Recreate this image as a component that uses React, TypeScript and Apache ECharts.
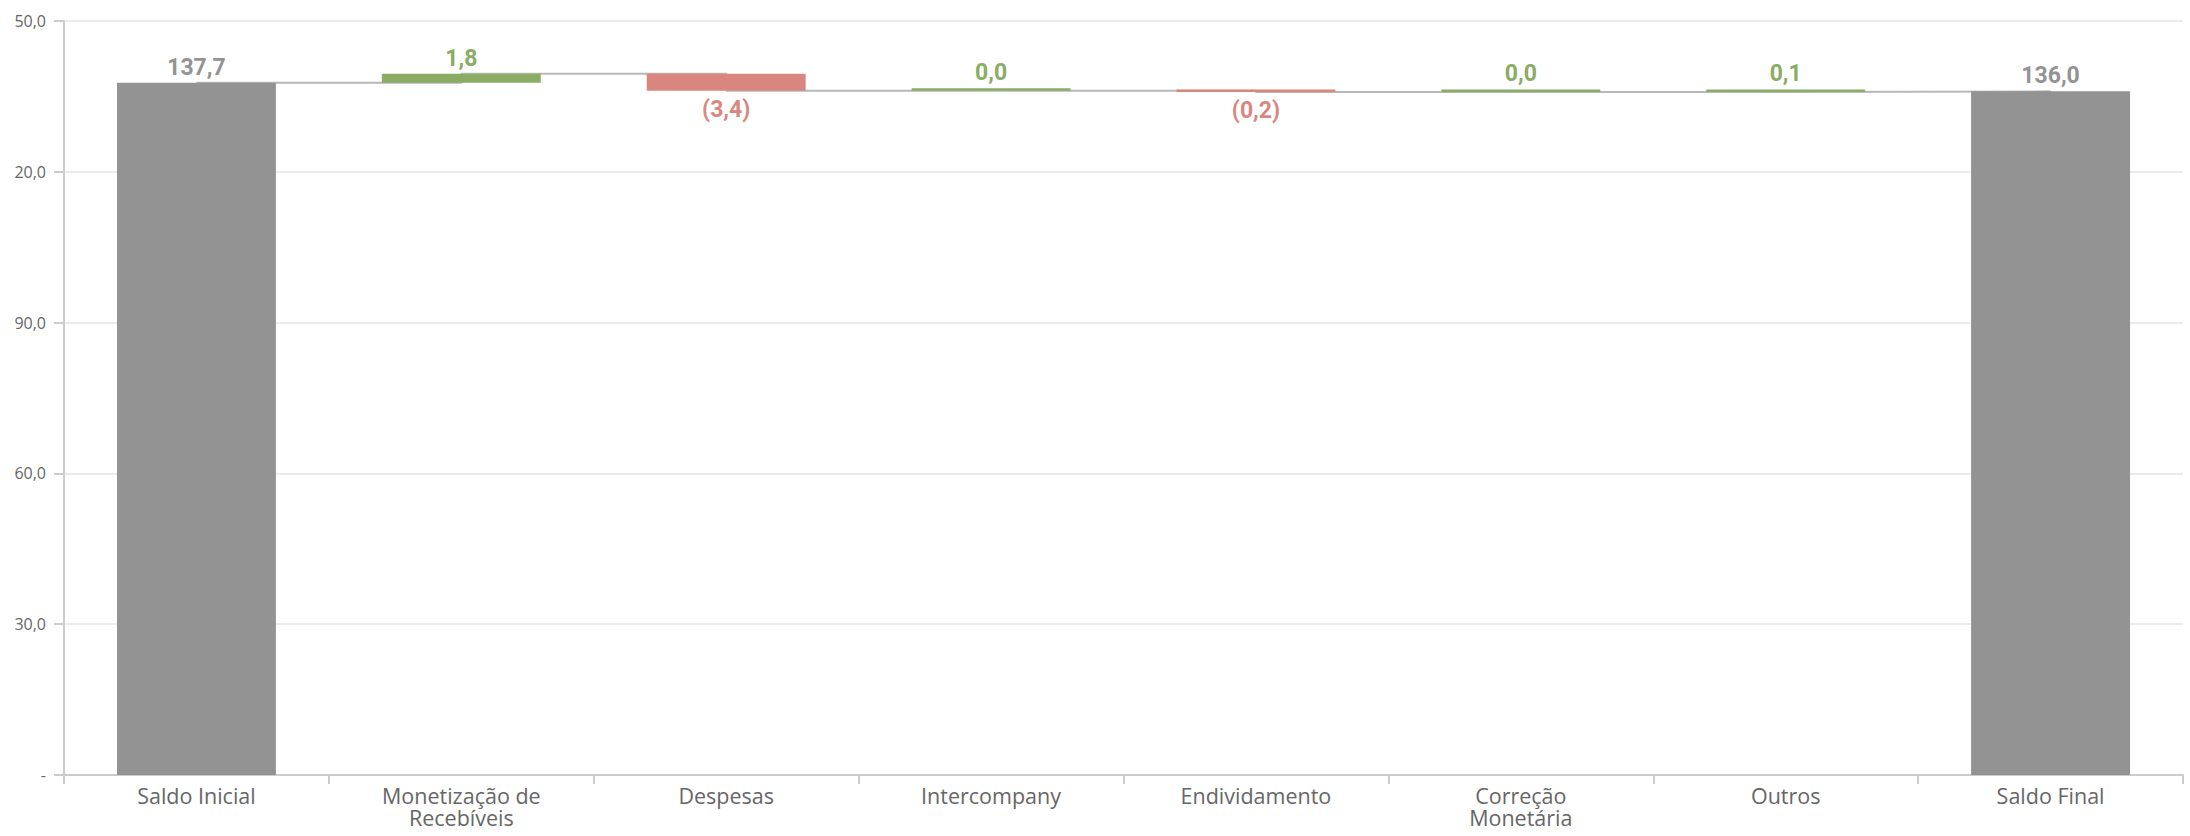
import React, { useEffect, useRef } from "react";
import * as echarts from "echarts";

const categories = [
  "Saldo Inicial",
  "Monetização de\nRecebíveis",
  "Despesas",
  "Intercompany",
  "Endividamento",
  "Correção\nMonetária",
  "Outros",
  "Saldo Final",
];
const saldoInicial = 137.7;
const variacoes = [1.8, -3.4, 0.0, -0.2, 0.0, 0.1];
const saldoFinal = 136.0;
const yMin = 0;
const yMax = 150;
const yInterval = 30;

const GRAY = "#939393";
const GREEN = "#8aac64";
const RED = "#d9867f";

const r1 = (v: number) => Math.round(v * 10) / 10;
const fmt = (v: number) => {
  const s = Math.abs(v).toFixed(1).replace(".", ",");
  return v < 0 ? `(${s})` : s;
};

export default function App() {
  const ref = useRef<HTMLDivElement>(null);
  useEffect(() => {
    if (!ref.current) return;
    const chart = echarts.init(ref.current, undefined, { renderer: "svg" });

    const base: number[] = [0];
    const vals: number[] = [saldoInicial];
    const kinds: string[] = ["total"];
    const shown: number[] = [saldoInicial];
    const levels: number[] = [saldoInicial];
    let acc = saldoInicial;
    variacoes.forEach((d) => {
      const next = r1(acc + d);
      base.push(Math.min(acc, next));
      vals.push(Math.abs(d));
      kinds.push(d < 0 ? "neg" : "pos");
      shown.push(d);
      levels.push(next);
      acc = next;
    });
    base.push(0);
    vals.push(saldoFinal);
    kinds.push("total");
    shown.push(saldoFinal);
    levels.push(saldoFinal);

    const colorOf = (k: string) => (k === "total" ? GRAY : k === "neg" ? RED : GREEN);

    chart.setOption({
      animation: false,
      grid: {
        left: 49,
        right: 7,
        top: 21,
        bottom: 61,
        containLabel: false,
        outerBoundsMode: "none",
      },
      xAxis: {
        type: "category",
        data: categories,
        axisLine: { lineStyle: { color: "#cccccc", width: 2 } },
        axisTick: { show: true, length: 9, lineStyle: { color: "#cccccc", width: 2 } },
        axisLabel: {
          color: "#666666",
          fontFamily: "Open Sans",
          fontSize: 21.5,
          lineHeight: 22,
          margin: 9,
          interval: 0,
        },
      },
      yAxis: {
        type: "value",
        min: yMin,
        max: yMax,
        interval: yInterval,
        axisLine: { show: true, lineStyle: { color: "#cccccc", width: 2 } },
        axisTick: { show: true, length: 10, lineStyle: { color: "#cccccc", width: 2 } },
        splitLine: { lineStyle: { color: "#ebebeb", width: 2 } },
        axisLabel: {
          color: "#666666",
          fontFamily: "Open Sans",
          fontSize: 16,
          margin: 18,
          formatter: (v: number) => (v === 0 ? "-" : v.toFixed(1).replace(".", ",")),
        },
      },
      series: [
        {
          type: "line",
          step: "end",
          data: levels,
          symbol: "none",
          z: 1,
          lineStyle: { color: "#b8b8b8", width: 2 },
          silent: true,
        },
        {
          type: "bar",
          stack: "w",
          data: base,
          barWidth: "60%",
          itemStyle: { color: "transparent" },
          silent: true,
          z: 2,
        },
        {
          type: "bar",
          stack: "w",
          barWidth: "60%",
          barMinHeight: 2.5,
          z: 3,
          data: vals.map((v, i) => ({
            value: v,
            itemStyle: { color: colorOf(kinds[i]) },
            label: {
              show: true,
              position: kinds[i] === "neg" ? "bottom" : "top",
              distance: kinds[i] === "neg" ? 7 : 4,
              color: colorOf(kinds[i]),
            },
          })),
          label: {
            show: true,
            fontFamily: "Roboto",
            fontWeight: "bold",
            fontSize: 23,
            formatter: (p: any) => fmt(shown[p.dataIndex]),
          },
        },
      ],
    });
    return () => chart.dispose();
  }, []);
  return (
    <div
      ref={ref}
      style={{ position: "absolute", left: 15, top: 0, width: 2175, height: 836, overflow: "hidden" }}
    />
  );
}
